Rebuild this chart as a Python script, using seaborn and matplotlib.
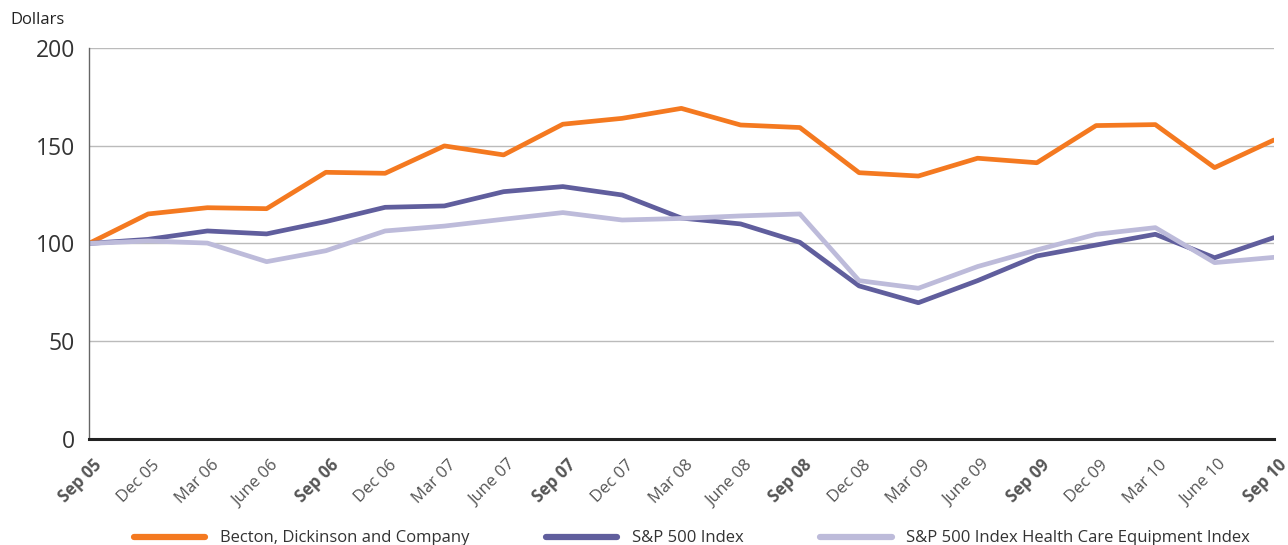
import pandas as pd
import matplotlib.pyplot as plt
import matplotlib.transforms as mtransforms
import seaborn as sns

quarters = ["Sep 05", "Dec 05", "Mar 06", "June 06", "Sep 06", "Dec 06", "Mar 07",
            "June 07", "Sep 07", "Dec 07", "Mar 08", "June 08", "Sep 08", "Dec 08",
            "Mar 09", "June 09", "Sep 09", "Dec 09", "Mar 10", "June 10", "Sep 10"]
becton = [100, 115.1, 118.3, 117.8, 136.4, 135.9, 149.9, 145.3, 161.0, 164.0, 169.1,
          160.6, 159.3, 136.2, 134.5, 143.6, 141.3, 160.3, 160.8, 138.8, 152.9]
sp500 = [100, 102.1, 106.4, 104.9, 111.2, 118.5, 119.2, 126.5, 129.1, 124.8, 113.0,
         110.0, 100.6, 78.3, 69.7, 81.0, 93.6, 99.2, 104.7, 92.7, 103.0]
healthcare = [100, 101.3, 100.2, 90.7, 96.3, 106.4, 108.9, 112.4, 115.8, 112.0, 112.8,
              114.1, 115.1, 81.0, 77.1, 88.2, 96.7, 104.7, 108.1, 90.2, 92.9]
series_names = ["Becton, Dickinson and Company", "S&P 500 Index",
                "S&P 500 Index Health Care Equipment Index"]
colors = ["#F47920", "#605E9D", "#BDBBDA"]

n = len(quarters)
df = pd.DataFrame({"quarter": list(range(n)) * 3,
                   "value": becton + sp500 + healthcare,
                   "series": [series_names[0]] * n + [series_names[1]] * n + [series_names[2]] * n})

sns.set_style("white")
plt.rcParams["font.family"] = ["Open Sans", "DejaVu Sans"]

fig = plt.figure(figsize=(12.88, 5.45), dpi=100)
ax = fig.add_axes([0.069, 0.1945, 0.92, 0.7175])

sns.lineplot(data=df, x="quarter", y="value", hue="series", hue_order=series_names,
             palette=colors, linewidth=3.4, ax=ax, legend=False)

ax.set_xlim(0, n - 1)
ax.set_ylim(0, 200)
ax.set_yticks([0, 50, 100, 150, 200])
ax.yaxis.grid(True, color="#BBBBBB", linewidth=1)
ax.set_axisbelow(True)
ax.tick_params(axis="y", length=0, labelsize=16.5, labelcolor="#333333", pad=10)

# x labels: rotated, nudged right like the original
ax.set_xticks(range(n))
ax.set_xticklabels(quarters, rotation=45, ha="right", va="center", rotation_mode="anchor")
ax.tick_params(axis="x", direction="in", length=13, width=1.2, color="#333333",
               labelsize=12, labelcolor="#555555", pad=17)
shift = mtransforms.ScaledTranslation(7 / 72, 0, fig.dpi_scale_trans)
for lab in ax.get_xticklabels():
    lab.set_transform(lab.get_transform() + shift)
    if lab.get_text().startswith("Sep"):
        lab.set_fontweight("bold")

ax.set_xlabel("")
ax.set_ylabel("")
for side in ["top", "right"]:
    ax.spines[side].set_visible(False)
ax.spines["left"].set_color("#666666")
ax.spines["left"].set_linewidth(1)
ax.spines["bottom"].set_color("#222222")
ax.spines["bottom"].set_linewidth(2.2)

fig.text(0.008, 0.963, "Dollars", fontsize=12, color="#222222", va="center")

handles = [plt.Line2D([], [], color=c, linewidth=4.5, solid_capstyle="round") for c in colors]
fig.legend(handles, series_names, loc="lower center", bbox_to_anchor=(0.537, -0.03), ncol=3,
           frameon=False, fontsize=12, handlelength=4.3, handletextpad=0.85,
           columnspacing=4.6, labelcolor="#333333")

plt.savefig("out.png", dpi=100)
